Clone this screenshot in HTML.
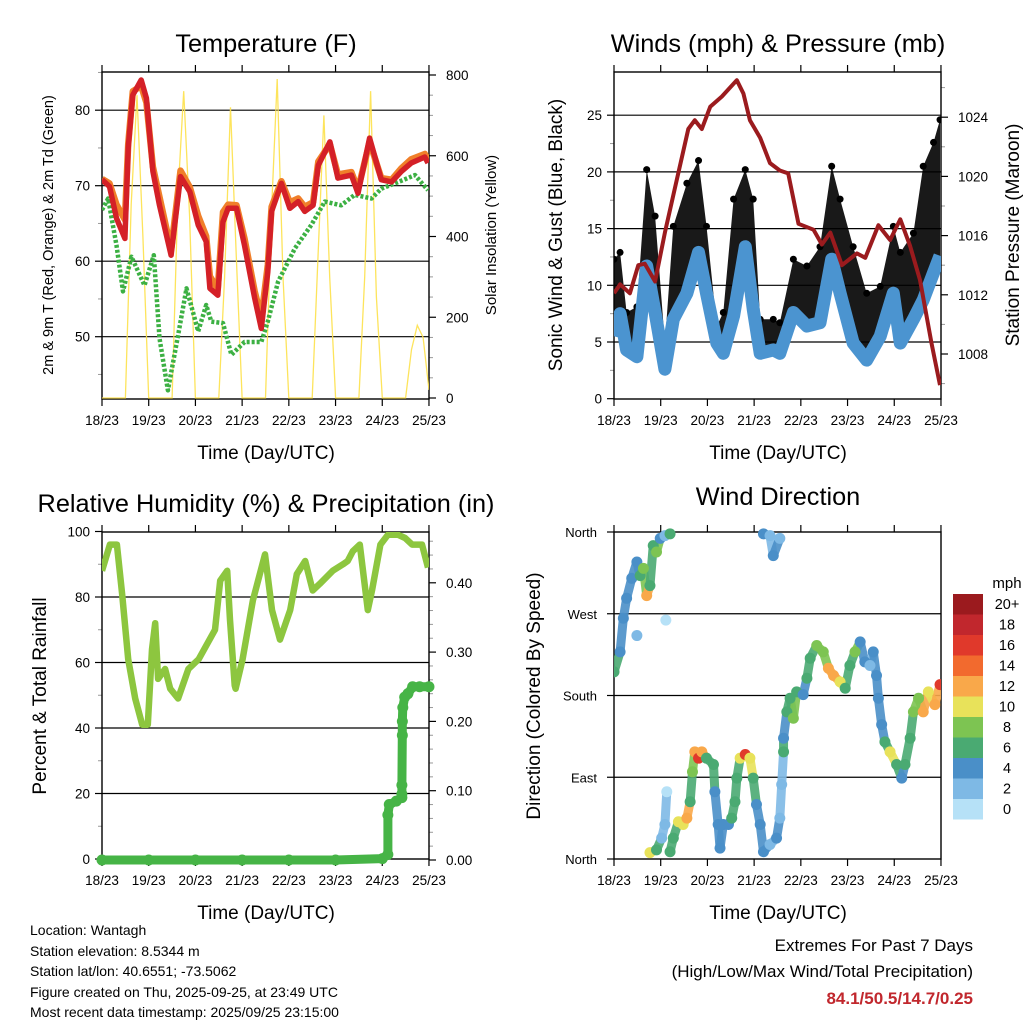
<!DOCTYPE html>
<html><head><meta charset="utf-8"><style>
html,body{margin:0;padding:0;background:#fff;}
svg{display:block;font-family:"Liberation Sans",Arial,sans-serif;}
</style></head><body>
<svg id="fig" width="1024" height="1024" viewBox="0 0 1024 1024" xmlns="http://www.w3.org/2000/svg">
<defs>
<clipPath id="c1"><rect x="102" y="72" width="327" height="327"/></clipPath>
<clipPath id="c2"><rect x="614" y="72" width="327" height="327"/></clipPath>
<clipPath id="c3"><rect x="102" y="532" width="327" height="327"/></clipPath>
<clipPath id="c4"><rect x="614" y="527" width="327" height="337"/></clipPath>
</defs>
<text x="266" y="52" font-size="25.3" text-anchor="middle">Temperature (F)</text>
<text x="778" y="52" font-size="25.3" text-anchor="middle">Winds (mph) &amp; Pressure (mb)</text>
<text x="266" y="512" font-size="25.3" text-anchor="middle">Relative Humidity (%) &amp; Precipitation (in)</text>
<text x="778" y="505" font-size="25.3" text-anchor="middle">Wind Direction</text>
<text x="266" y="459" font-size="19" text-anchor="middle">Time (Day/UTC)</text>
<text x="778" y="459" font-size="19" text-anchor="middle">Time (Day/UTC)</text>
<text x="266" y="919" font-size="19" text-anchor="middle">Time (Day/UTC)</text>
<text x="778" y="919" font-size="19" text-anchor="middle">Time (Day/UTC)</text>
<text transform="translate(53,235) rotate(-90)" font-size="14.5" text-anchor="middle">2m &amp; 9m T (Red, Orange) &amp; 2m Td (Green)</text>
<text transform="translate(496,235) rotate(-90)" font-size="15" text-anchor="middle">Solar Insolation (Yellow)</text>
<text transform="translate(562,235) rotate(-90)" font-size="19" text-anchor="middle">Sonic Wind &amp; Gust (Blue, Black)</text>
<text transform="translate(1019,235) rotate(-90)" font-size="19" text-anchor="middle">Station Pressure (Maroon)</text>
<text transform="translate(46,696) rotate(-90)" font-size="19" text-anchor="middle">Percent &amp; Total Rainfall</text>
<text transform="translate(540,696) rotate(-90)" font-size="19" text-anchor="middle">Direction (Colored By Speed)</text>
<g font-size="14">
<text x="30" y="935">Location: Wantagh</text>
<text x="30" y="956">Station elevation: 8.5344 m</text>
<text x="30" y="976">Station lat/lon: 40.6551; -73.5062</text>
<text x="30" y="997">Figure created on Thu, 2025-09-25, at 23:49 UTC</text>
<text x="30" y="1017">Most recent data timestamp: 2025/09/25 23:15:00</text>
</g>
<text x="973" y="951" font-size="17" text-anchor="end">Extremes For Past 7 Days</text>
<text x="973" y="977" font-size="17" text-anchor="end">(High/Low/Max Wind/Total Precipitation)</text>
<text x="973" y="1004" font-size="17" font-weight="bold" fill="#c1272d" text-anchor="end">84.1/50.5/14.7/0.25</text>
<text x="1007" y="588" font-size="15" text-anchor="middle">mph</text>
</svg>
<script>
const NS='http://www.w3.org/2000/svg';
const svg=document.getElementById('fig');
// ---------- data ----------
const dayLabels=['18/23','19/23','20/23','21/23','22/23','23/23','24/23','25/23'];
const tempTimes=[0,0.16,0.31,0.49,0.56,0.66,0.84,0.95,1.09,1.23,1.48,1.68,1.88,2.06,2.23,2.31,2.48,2.59,2.70,2.88,3.05,3.27,3.41,3.55,3.63,3.84,4.02,4.20,4.34,4.52,4.63,4.88,5.05,5.34,5.48,5.73,5.98,6.20,6.41,6.62,6.91,6.98];
const tempRed=[70.8,69.9,65.7,63,75,82,84,81.6,71.9,67.4,60.8,71.2,69.2,64.8,62.6,56.4,55.5,65.2,67,67,62.1,55.1,51.1,58.6,66.6,70.3,67,67.9,66.6,67.4,72.7,75.8,71,71.4,69,76.3,70.8,70.5,71.9,73,73.8,73];
const tempOrange=[70.9,70.3,67.5,65.5,75.5,82.5,83.2,81,72.5,68.5,61.5,72,69.8,66,63.3,58,56.3,66.5,67.5,67.4,63,56,52.5,59.5,67.2,70.6,67.8,68.3,67.2,67.8,73.2,75.5,71.5,71.8,69.5,75.8,71,70.8,72.3,73.5,74.2,73.5];
const dewTimes=[0,0.13,0.31,0.45,0.63,0.91,1.11,1.23,1.41,1.63,1.81,2.06,2.23,2.34,2.59,2.77,3.05,3.41,3.55,3.77,4.13,4.48,4.77,5.12,5.41,5.77,5.98,6.27,6.70,6.98];
const dewPoint=[66.8,68.3,62.1,56,60.6,56.8,60.8,49.8,42.9,50.2,56.4,50.7,54.2,52,51.8,47.6,49.3,49.3,52,57.3,61.7,64.8,67.9,67.4,68.8,68.3,69.6,70.3,71.4,69.4];
const solarValues=[0,0,0,0,0,480,750,400,0,0,0,0,0,500,760,450,0,0,0,0,0,300,720,350,0,0,0,0,0,450,790,300,0,0,0,0,0,350,700,300,0,0,0,0,0,300,760,250,0,0,0,0,0,120,180,150,20];
const windTimes=[0,0.13,0.27,0.49,0.70,0.88,1.09,1.27,1.56,1.81,1.98,2.20,2.34,2.56,2.81,2.98,3.13,3.41,3.55,3.84,4.13,4.41,4.66,4.84,5.12,5.41,5.70,5.98,6.13,6.41,6.62,6.84,6.98];
const windSpeed=[5.5,7.5,4.3,3.7,11.7,7.6,2.6,7,9.3,12.9,9.3,4.9,4,7.3,13.4,7.9,4,4.3,4,7.6,6.4,6.7,12.3,9.3,4.9,3.4,5.5,9.3,4.9,7,8.7,11.1,12.6];
const windGust=[12.3,12.9,7.6,8.1,20.2,16.1,4.9,15.2,19,21,15.2,6.4,7.6,17.6,20.2,17.6,7,7,6.7,12.3,11.7,13.4,20.5,17.6,13.4,9.3,9.9,15.2,12.9,14.6,20.5,22.6,24.6];
const presTimes=[0,0.13,0.34,0.52,0.66,0.88,1.09,1.31,1.59,1.73,1.88,2.06,2.31,2.63,2.77,2.91,3.13,3.34,3.55,3.73,3.95,4.27,4.45,4.63,4.88,5.20,5.38,5.66,5.91,6.13,6.34,6.55,6.80,6.98];
const pressure=[1012.1,1012.7,1012.1,1014,1014.1,1012.9,1016.2,1019.3,1023.2,1023.8,1023.2,1024.7,1025.4,1026.5,1025.6,1023.8,1022.6,1020.9,1020.4,1020.2,1016.8,1016.4,1015.4,1016.2,1014,1014.8,1014.5,1016.7,1015.7,1017.1,1015.3,1013,1008.7,1005.9];
const rhTimes=[0,0.17,0.32,0.43,0.56,0.71,0.86,0.98,1.07,1.14,1.20,1.35,1.46,1.63,1.85,2.07,2.42,2.53,2.68,2.74,2.84,2.86,3.01,3.23,3.49,3.64,3.81,4.03,4.17,4.35,4.51,4.66,4.94,5.16,5.26,5.37,5.52,5.69,5.78,5.96,6.12,6.34,6.49,6.64,6.85,6.98];
const rhValues=[88,96,96,81,61,49,41,41,64,72,55,58,52,49,58,61,70,85,88,73,53,52,61,79,93,76,67,76,87,91,82,84,88,90,91,94,96,76,82,96,99,99,98,96,96,89];
const precipTimes=[0,1,2,3,4,5,6,6.12,6.12,6.15,6.30,6.42,6.42,6.42,6.43,6.43,6.44,6.48,6.55,6.65,6.80,7.0];
const precipValues=[0,0,0,0,0,0,0.002,0.008,0.065,0.08,0.085,0.09,0.095,0.108,0.18,0.2,0.22,0.235,0.24,0.25,0.25,0.25];
const dirTimes=[0,0.13,0.20,0.27,0.38,0.49,0.56,0.63,0.70,0.77,0.84,0.91,0.99,1.09,1.20,1.11,0.49,3.20,3.34,3.41,3.55,0.77,0.91,1.02,1.09,1.13,1.20,1.27,1.38,1.48,1.56,1.63,1.68,1.73,1.81,1.88,1.98,2.13,2.16,2.23,2.27,2.34,2.45,2.52,2.59,2.63,2.70,2.81,2.91,2.98,3.05,3.13,3.20,3.34,3.48,3.55,3.59,3.63,3.63,3.70,3.77,3.84,3.91,4.05,4.13,4.20,4.34,4.48,4.59,4.70,4.84,4.95,5.05,5.16,5.27,5.37,5.48,5.55,5.62,5.66,5.73,5.80,5.91,6.05,6.16,6.23,6.34,6.41,6.52,6.62,6.73,6.87,6.98];
const dirDegrees=[206,228,265,287,309,327,312,320,290,301,345,338,353,356,358,263,246,358,356,334,353,7,10,23,38,74,8,23,41,38,45,63,96,118,111,118,111,104,74,38,12,38,38,45,63,89,111,115,111,89,60,38,8,16,23,45,82,118,133,162,177,155,184,181,199,221,235,228,210,202,195,188,213,228,239,217,213,228,202,177,148,129,118,104,89,104,133,162,177,162,184,170,192];
const dirSpeeds=[6,4,4,4,4,4,7,8,12,7,6,8,5,2,7,1,3,4,3,4,3,10,6,2,2,1,6,6,10,10,12,6,8,12,16,12,6,6,4,4,4,4,4,6,7,7,10,16,10,6,4,4,4,3,4,3,2,6,4,6,6,8,6,4,6,6,8,8,12,12,10,6,6,8,4,4,3,4,4,4,4,6,10,6,5,6,7,8,8,12,10,12,16];
const cbLabels=['20+','18','16','14','12','10','8','6','4','2','0'];
const cbColors=['#9b1a1e','#c1272d','#e0392b','#f26a2e','#f9a84a','#e8e25a','#7dc452','#4aaa72','#4a8fc8','#7eb9e5','#b6e1f7'];
// ---------- helpers ----------
function mk(tag,attrs,parent){const e=document.createElementNS(NS,tag);for(const k in attrs)e.setAttribute(k,attrs[k]);(parent||svg).appendChild(e);return e;}
const X1=t=>102+t*46.71, X2=t=>614+t*46.71;
const yTemp=v=>185.7-(v-70)*7.55;
const ySolar=s=>398-s*323/800;
const yWind=v=>398.7-v*11.34;
const yPres=p=>354-(p-1008)*14.8;
const yRH=v=>859-v*3.275;
const yPrec=v=>860-v*693;
const yDir=d=>859-d/360*327;
function pts(xs,ys,fx,fy){return xs.map((t,i)=>fx(t).toFixed(1)+','+fy(ys[i]).toFixed(1)).join(' ');}
function speedColor(s){return cbColors[10-Math.min(10,Math.floor(s/2))];}
function axes(x0,y0,name,grid,leftTicks,leftMinor,rightTicks,rightMinor,fx){
  const g=mk('g',{});
  
  
  grid.forEach(y=>{const l=mk('line',{x1:x0,x2:x0+327,y1:y,y2:y,stroke:'#000','stroke-width':1.2},g);
    
    });
  for(let d=0;d<=7;d++){const x=fx(d);
    mk('line',{x1:x,x2:x,y1:y0+327,y2:y0+334,stroke:'#000','stroke-width':1.2},g);
    mk('line',{x1:x,x2:x,y1:y0,y2:y0-7,stroke:'#000','stroke-width':1.2},g);
    const tx=mk('text',{x:x,y:y0+353,'font-size':13.5,'text-anchor':'middle'},g);
    tx.textContent=dayLabels[d];
    
    }
  leftTicks.forEach(([y,lab])=>{mk('line',{x1:x0,x2:x0-7,y1:y,y2:y,stroke:'#000','stroke-width':1.2},g);
    const tx=mk('text',{x:x0-12,y:y+5,'font-size':13.5,'text-anchor':'end'},g);tx.textContent=lab;
    
    });
  leftMinor.forEach(y=>mk('line',{x1:x0,x2:x0-4,y1:y,y2:y,stroke:'#999','stroke-width':1},g));
  rightTicks.forEach(([y,lab])=>{mk('line',{x1:x0+327,x2:x0+334,y1:y,y2:y,stroke:'#000','stroke-width':1.2},g);
    const tx=mk('text',{x:x0+344,y:y+5,'font-size':13.5},g);tx.textContent=lab;
    
    });
  rightMinor.forEach(y=>mk('line',{x1:x0+327,x2:x0+331,y1:y,y2:y,stroke:'#999','stroke-width':1},g));
  const b=mk('rect',{x:x0,y:y0,width:327,height:327,fill:'none',stroke:'#000','stroke-width':1.4},g);
  
  
}
// ---------- panel 1: temperature ----------
axes(102,72,'temperature',[50,60,70,80].map(yTemp),[50,60,70,80].map(v=>[yTemp(v),String(v)]),[45,55,65,75,85].map(yTemp),[0,200,400,600,800].map(v=>[ySolar(v),String(v)]),[100,300,500,700].map(ySolar).concat([50,150,250,350,450,550,650,750].map(ySolar)),X1);
const g1=mk('g',{'clip-path':'url(#c1)'});


const solar=mk('polyline',{points:pts(solarValues.map((v,i)=>i/8),solarValues,X1,ySolar),fill:'none',stroke:'#fde14a','stroke-width':1.3,'stroke-opacity':0.9},g1);


const dew=mk('polyline',{points:pts(dewTimes,dewPoint,X1,yTemp),fill:'none',stroke:'#3cb043','stroke-width':4.5,'stroke-dasharray':'3 2','stroke-linejoin':'round'},g1);


const or=mk('polyline',{points:pts(tempTimes,tempOrange,X1,yTemp),fill:'none',stroke:'#f07f2a','stroke-width':6.5,'stroke-linejoin':'round'},g1);


const rd=mk('polyline',{points:pts(tempTimes,tempRed,X1,yTemp),fill:'none',stroke:'#d42027','stroke-width':5.5,'stroke-linejoin':'round'},g1);


// ---------- panel 2: winds ----------
axes(614,72,'winds',[5,10,15,20,25].map(yWind),[0,5,10,15,20,25].map(v=>[yWind(v),String(v)]),[2.5,7.5,12.5,17.5,22.5].map(yWind),[1008,1012,1016,1020,1024].map(v=>[yPres(v),String(v)]),[1006,1010,1014,1018,1022,1026].map(yPres),X2);
const g2=mk('g',{'clip-path':'url(#c2)'});


const gpoly=windTimes.map((t,i)=>X2(t).toFixed(1)+','+yWind(windGust[i]).toFixed(1)).concat(windTimes.map((t,i)=>X2(t).toFixed(1)+','+yWind(windSpeed[i]).toFixed(1)).reverse()).join(' ');
const gust=mk('polygon',{points:gpoly,fill:'#000','fill-opacity':0.9},g2);


windTimes.forEach((t,i)=>{const c=mk('circle',{cx:X2(t),cy:yWind(windGust[i]),r:3.5,fill:'#000'},g2);
  
  });
const sus=mk('polyline',{points:pts(windTimes,windSpeed,X2,yWind),fill:'none',stroke:'#4b94d0','stroke-width':13,'stroke-linejoin':'round'},g2);


const pr=mk('polyline',{points:pts(presTimes,pressure,X2,yPres),fill:'none',stroke:'#9b1b1e','stroke-width':4,'stroke-linejoin':'round'},g2);


// ---------- panel 3: humidity ----------
axes(102,532,'humidity',[20,40,60,80].map(yRH),[0,20,40,60,80,100].map(v=>[yRH(v),String(v)]),[10,30,50,70,90].map(yRH),[0,0.1,0.2,0.3,0.4].map(v=>[yPrec(v),v.toFixed(2)]),[0.02,0.04,0.06,0.08,0.12,0.14,0.16,0.18,0.22,0.24,0.26,0.28,0.32,0.34,0.36,0.38,0.42,0.44,0.46].map(yPrec),X1);
const g3=mk('g',{'clip-path':'url(#c3)'});


const rh=mk('polyline',{points:pts(rhTimes,rhValues,X1,yRH),fill:'none',stroke:'#8dc63f','stroke-width':6.5,'stroke-linejoin':'round'},g3);


const g3b=mk('g',{});


const pl=mk('polyline',{points:pts(precipTimes,precipValues,X1,yPrec),fill:'none',stroke:'#46b446','stroke-width':9,'stroke-linecap':'round','stroke-linejoin':'round'},g3b);


precipTimes.forEach((t,i)=>{const c=mk('circle',{cx:X1(t),cy:yPrec(precipValues[i]),r:5.5,fill:'#46b446'},g3b);
  
  });
// ---------- panel 4: direction ----------
const dirTicks=[[0,'North'],[90,'East'],[180,'South'],[270,'West'],[360,'North']];
axes(614,532,'direction',[90,180,270].map(yDir),[],[],[],[],X2);
dirTicks.forEach(([d,lab])=>{mk('line',{x1:614,x2:607,y1:yDir(d),y2:yDir(d),stroke:'#000','stroke-width':1.2});
  const tx=mk('text',{x:597,y:yDir(d)+5,'font-size':13,'text-anchor':'end'});tx.textContent=lab;
  
  });
const g4=mk('g',{'clip-path':'url(#c4)'});


for(let i=0;i<dirTimes.length-1;i++){
  if(Math.abs(dirDegrees[i+1]-dirDegrees[i])<45&&Math.abs(dirTimes[i+1]-dirTimes[i])<0.2){
    const s=mk('line',{x1:X2(dirTimes[i]),y1:yDir(dirDegrees[i]),x2:X2(dirTimes[i+1]),y2:yDir(dirDegrees[i+1]),stroke:speedColor(dirSpeeds[i]),'stroke-width':9,'stroke-linecap':'round','stroke-opacity':0.9},g4);
    
    
  }
}
dirTimes.forEach((t,i)=>{const c=mk('circle',{cx:X2(t),cy:yDir(dirDegrees[i]),r:5.5,fill:speedColor(dirSpeeds[i])},g4);
  
  });
// colorbar
cbLabels.forEach((lab,i)=>{const y=594+i*20.5;
  const r=mk('rect',{x:953,y:y,width:30,height:20.5,fill:cbColors[i]});
  
  
  const tx=mk('text',{x:1007,y:y+15,'font-size':14.5,'text-anchor':'middle'});tx.textContent=lab;
  
  });
</script>
</body></html>
